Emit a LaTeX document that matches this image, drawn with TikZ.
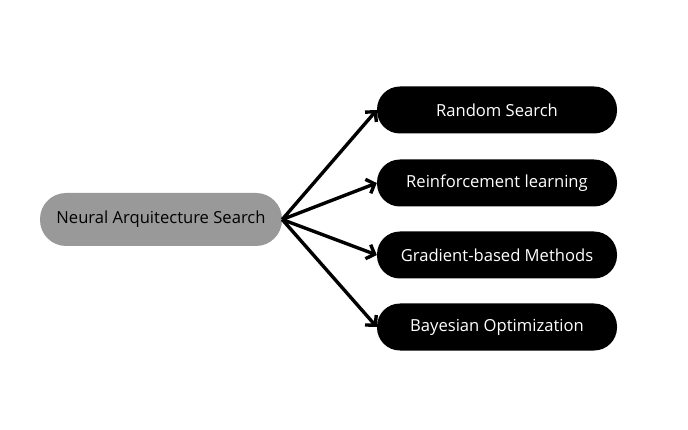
\documentclass[tikz,border=0pt]{standalone}
\usepackage{fontspec}
\setmainfont{Open Sans}
\usetikzlibrary{arrows.meta}
\definecolor{rootgray}{HTML}{999999}
\tikzset{
    root/.style={fill=rootgray, text=black, rounded corners=26pt, minimum width=242pt, minimum height=53pt, font=\fontsize{16.6}{20}\selectfont},
    method/.style={fill=black, text=white, rounded corners=23pt, minimum width=240pt, minimum height=47pt, font=\fontsize{16.6}{20}\selectfont},
    link/.style={line width=3.4pt, -{Straight Barb[length=7pt, width=15pt, line width=3.4pt]}}
}
\begin{document}
\begin{tikzpicture}[x=1pt, y=-1pt]
    % NAS and its search strategies
    \useasboundingbox (0,0) rectangle (688,430);
    \node[root] (nas) at (161,219.5) {Neural Arquitecture Search};
    \node[method] (rand) at (497,110) {Random Search};
    \node[method] (reinf) at (497,183) {Reinforcement learning};
    \node[method] (grad) at (497,255) {Gradient-based Methods};
    \node[method] (bayes) at (497,327) {Bayesian Optimization};
    \foreach \m in {rand,reinf,grad,bayes} \draw[link] (nas.east) -- (\m.west);
\end{tikzpicture}
\end{document}
